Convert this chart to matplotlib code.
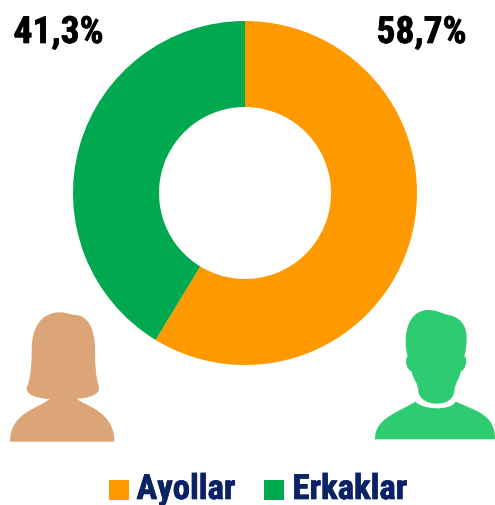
import matplotlib
matplotlib.use("Agg")
import matplotlib.pyplot as plt
from matplotlib.path import Path
from matplotlib.patches import PathPatch, Rectangle
import matplotlib.patheffects as pe
import numpy as np

labels = ["Ayollar", "Erkaklar"]
values = [58.7, 41.3]
value_labels = ["58,7%", "41,3%"]
colors = ["#FF9900", "#00A84F"]
NAVY = "#0B2265"
FONT = "Roboto Condensed"

fig = plt.figure(figsize=(4.95, 5.05), dpi=100, facecolor="white")
W, H = 495, 505

bg = fig.add_axes([0, 0, 1, 1])
bg.set_xlim(0, W); bg.set_ylim(H, 0); bg.axis("off")

R = 172
cx, cy = 245, 193
ax = fig.add_axes([(cx-R)/W, 1-(cy+R)/H, 2*R/W, 2*R/H])
ax.pie(values, colors=colors, startangle=90, counterclock=False, radius=1,
       wedgeprops=dict(width=0.5, linewidth=0))
ax.set_xlim(-1, 1); ax.set_ylim(-1, 1); ax.set_aspect("equal")

def silhouette(start, curves, x0):
    """Cubic outline given in 3x-zoomed crop coordinates."""
    conv = lambda q: (x0+q[0]/3, 300+q[1]/3)
    verts = [conv(start)]; codes = [Path.MOVETO]
    for c in curves:
        if len(c) == 1:
            verts.append(conv(c[0])); codes.append(Path.LINETO)
        else:
            verts += [conv(q) for q in c]; codes += [Path.CURVE4]*3
    verts.append(conv(start)); codes.append(Path.CLOSEPOLY)
    return Path(np.array(verts), codes)

woman = silhouette((148,297), [
    [(110,295),(80,285),(80,265)],
    [(80,255),(95,245),(95,150)],
    [(95,80),(125,37),(180,37)],
    [(200,37),(215,45),(225,45)],
    [(260,45),(285,80),(285,150)],
    [(285,245),(297,250),(297,265)],
    [(297,285),(265,295),(230,296)],
    [(260,320),(343,335),(343,425)],
    [(30,425)],
    [(30,335),(120,325),(148,297)],
], 0)
bg.add_patch(PathPatch(woman, fc="#DBA577", ec="none"))

man_head = silhouette((190,30), [
    [(145,30),(122,70),(122,125)],
    [(122,145),(125,160),(128,168)],
    [(120,175),(120,205),(140,215)],
    [(145,240),(160,250),(160,275)],
    [(165,300),(190,311),(215,311)],
    [(240,311),(268,300),(268,270)],
    [(270,250),(285,235),(287,215)],
    [(305,205),(308,175),(298,168)],
    [(303,150),(305,135),(305,115)],
    [(305,70),(280,50),(250,45)],
    [(230,40),(215,30),(190,30)],
], 365)
man_body = silhouette((30,418), [
    [(30,360),(80,345),(152,305)],
    [(170,328),(255,335),(272,305)],
    [(340,335),(390,345),(390,418)],
], 365)
green = "#2ECC71"
bg.add_patch(PathPatch(man_head, fc=green, ec="none"))
bg.add_patch(PathPatch(man_body, fc=green, ec="none"))

bg.text(58.5, 43, value_labels[1], ha="center", va="baseline", color="black",
        fontsize=27, fontweight="bold", family=FONT,
        path_effects=[pe.withStroke(linewidth=0.5, foreground="black")])
bg.text(421.5, 43, value_labels[0], ha="center", va="baseline", color="black",
        fontsize=27, fontweight="bold", family=FONT,
        path_effects=[pe.withStroke(linewidth=0.5, foreground="black")])

for (x0, lab, col, tx) in [(109, labels[0], colors[0], 136.5), (264, labels[1], colors[1], 292.5)]:
    bg.add_patch(Rectangle((x0, 480), 20, 20, fc=col, ec="none"))
    bg.text(tx, 499, lab, ha="left", va="baseline", color=NAVY,
            fontsize=25, fontweight="bold", family=FONT,
            path_effects=[pe.withStroke(linewidth=0.5, foreground=NAVY)])

fig.savefig("out.png", dpi=100, facecolor="white")
